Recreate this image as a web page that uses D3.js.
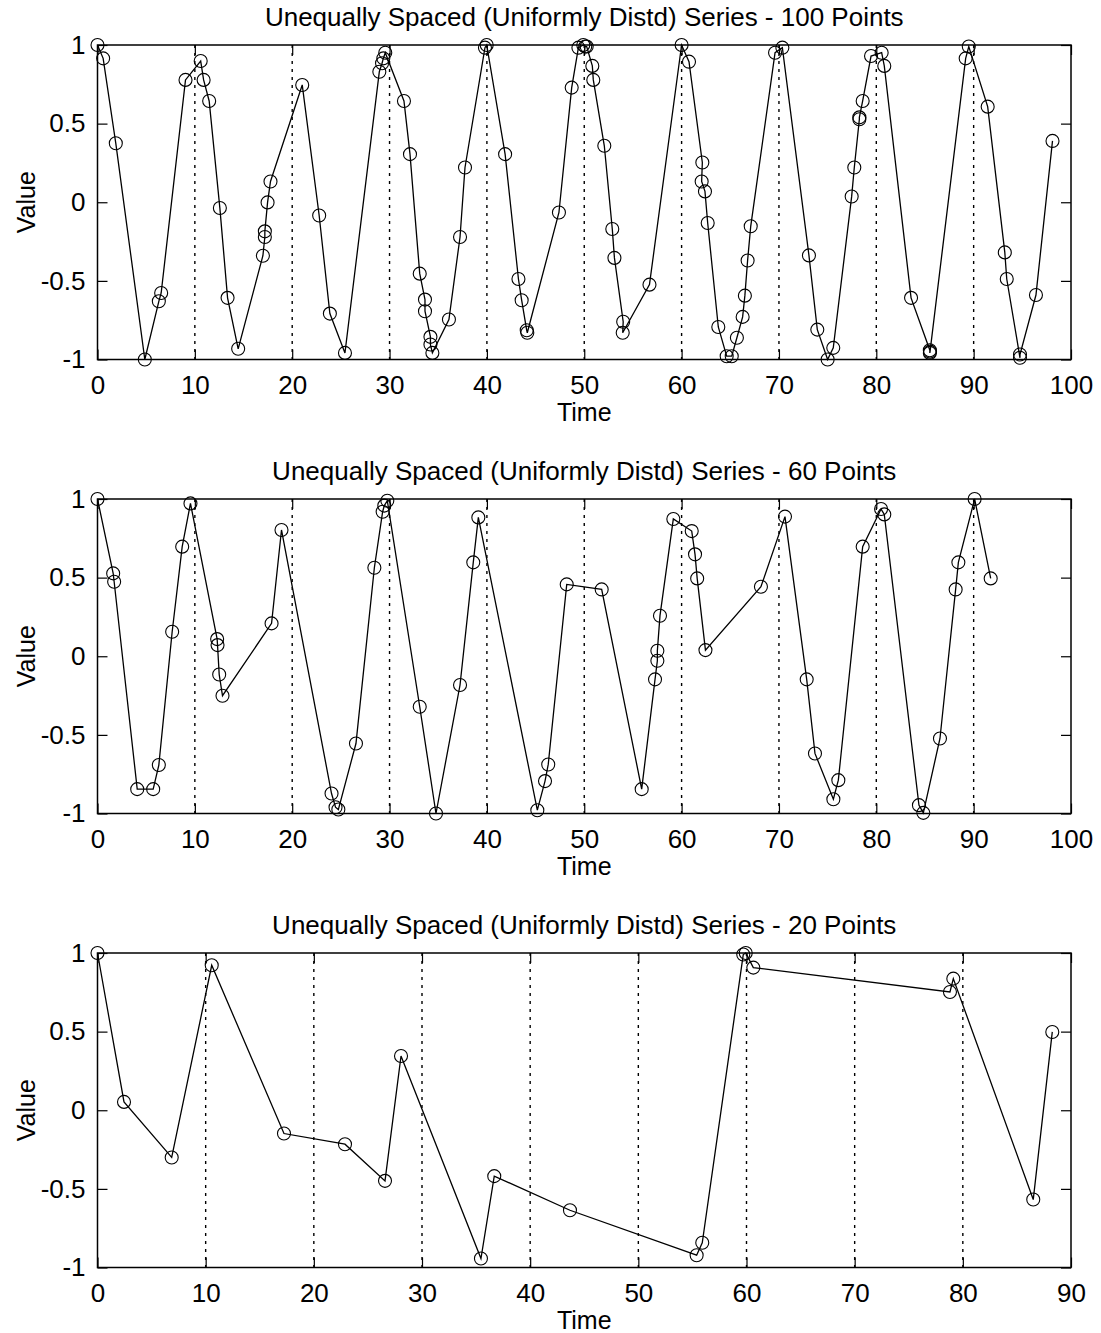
<!DOCTYPE html>
<html>
<head>
<meta charset="utf-8">
<script src="https://cdn.jsdelivr.net/npm/d3@7"></script>
<style>
  body { margin: 0; background: #fff; }
  svg text { font-family: "Liberation Sans", Arial, Helvetica, sans-serif; fill: #000; }
</style>
</head>
<body>
<div id="chart"></div>
<script>
// Series 1 - 100 points
const time100 = [0, 0.58, 1.88, 4.86, 6.3, 6.54, 9.04, 10.6, 10.9, 11.47, 12.57, 13.36, 14.45, 16.99, 17.19, 17.19, 17.47, 17.77,
  21.03, 22.77, 23.87, 25.42, 28.95, 29.23, 29.36, 29.56, 31.48, 32.1, 33.1, 33.64, 33.64, 34.2, 34.2, 34.4, 36.1, 37.24,
  37.75, 39.8, 39.98, 41.87, 43.24, 43.57, 44.09, 44.15, 47.4, 48.71, 49.4, 49.9, 50.1, 50.25, 50.83, 50.93, 52.06, 52.88,
  53.1, 54.0, 53.95, 56.7, 60.0, 60.76, 62.13, 62.06, 62.4, 62.68, 63.77, 64.63, 65.15, 65.68, 66.27, 66.5, 66.78, 67.1,
  69.6, 70.35, 73.08, 73.94, 75.0, 75.58, 77.47, 77.74, 78.26, 78.26, 78.6, 79.46, 80.55, 80.82, 83.57, 85.5, 85.5, 85.52,
  89.18, 89.5, 91.44, 93.2, 93.4, 94.76, 94.76, 96.4, 98.1];
const value100 = [1.0, 0.915, 0.375, -1.0, -0.63, -0.577, 0.778, 0.898, 0.778, 0.644, -0.037, -0.608, -0.932, -0.34, -0.221, -0.185, -0.001, 0.132,
  0.746, -0.084, -0.708, -0.958, 0.83, 0.884, 0.915, 0.951, 0.644, 0.306, -0.454, -0.619, -0.693, -0.856, -0.905, -0.958, -0.746, -0.221,
  0.221, 0.983, 1.0, 0.306, -0.488, -0.623, -0.814, -0.83, -0.065, 0.729, 0.983, 1.0, 0.99, 0.99, 0.867, 0.778, 0.359, -0.17,
  -0.354, -0.76, -0.83, -0.524, 1.0, 0.894, 0.253, 0.132, 0.069, -0.132, -0.793, -0.979, -0.979, -0.862, -0.729, -0.594, -0.37, -0.153,
  0.951, 0.983, -0.338, -0.81, -1.0, -0.926, 0.037, 0.221, 0.528, 0.54, 0.644, 0.93, 0.951, 0.867, -0.608, -0.941, -0.958, -0.95,
  0.915, 0.99, 0.608, -0.319, -0.488, -0.989, -0.968, -0.59, 0.39];

// Series 2 - 60 points
const time60 = [0, 1.61, 1.71, 4.08, 5.72, 6.3, 7.67, 8.7, 9.55, 12.29, 12.33, 12.5, 12.84, 17.88, 18.9, 24.04, 24.45, 24.74,
  26.55, 28.44, 29.29, 29.46, 29.77, 33.1, 34.77, 37.24, 38.6, 39.12, 45.18, 45.97, 46.3, 48.2, 51.79, 55.9, 57.27, 57.51,
  57.51, 57.78, 59.15, 61.04, 61.38, 61.6, 62.45, 68.15, 70.62, 72.85, 73.7, 75.59, 76.1, 78.6, 80.49, 80.82, 84.38, 84.83,
  86.54, 88.15, 88.43, 90.1, 91.75];
const value60 = [1.0, 0.527, 0.474, -0.845, -0.845, -0.692, 0.156, 0.697, 0.972, 0.109, 0.071, -0.116, -0.251, 0.209, 0.803, -0.873, -0.96, -0.975,
  -0.555, 0.563, 0.919, 0.958, 0.989, -0.321, -1.0, -0.183, 0.597, 0.883, -0.979, -0.794, -0.688, 0.457, 0.425, -0.845, -0.147, -0.029,
  0.035, 0.258, 0.873, 0.796, 0.648, 0.495, 0.039, 0.442, 0.888, -0.147, -0.618, -0.909, -0.788, 0.697, 0.936, 0.902, -0.947, -0.996,
  -0.523, 0.425, 0.597, 1.0, 0.495];

// Series 3 - 20 points
const time20 = [0, 2.45, 6.86, 10.56, 17.24, 22.88, 26.58, 28.06, 35.45, 36.68, 43.68, 55.39, 55.91, 59.7, 59.93, 60.63, 78.81, 79.12, 86.51, 88.27];
const value20 = [1.0, 0.053, -0.3, 0.922, -0.148, -0.216, -0.449, 0.345, -0.943, -0.419, -0.636, -0.922, -0.843, 0.99, 1.0, 0.907, 0.752, 0.837, -0.568, 0.498];

const xTicks100 = [0, 10, 20, 30, 40, 50, 60, 70, 80, 90, 100];
const xTicks90 = [0, 10, 20, 30, 40, 50, 60, 70, 80, 90];
const yTicks = [-1, -0.5, 0, 0.5, 1];

const panels = [
    { title: "Unequally Spaced (Uniformly Distd) Series - 100 Points", t: time100, v: value100, xMax: 100, xTicks: xTicks100, top: 45 },
    { title: "Unequally Spaced (Uniformly Distd) Series - 60 Points", t: time60, v: value60, xMax: 100, xTicks: xTicks100, top: 499 },
    { title: "Unequally Spaced (Uniformly Distd) Series - 20 Points", t: time20, v: value20, xMax: 90, xTicks: xTicks90, top: 953 }
];

const width = 1101;
const height = 1333;
const left = 97.5;
const right = 1071;
const plotHeight = 314.5;
const fontSize = 25;

const svg = d3.select("#chart").append("svg")
    .attr("width", width)
    .attr("height", height)
    .attr("viewBox", [0, 0, width, height]);

panels.forEach(p => {
    const x = d3.scaleLinear().domain([0, p.xMax]).range([left, right]);
    const y = d3.scaleLinear().domain([-1, 1]).range([p.top + plotHeight, p.top]);
    const g = svg.append("g");

    // dotted grid lines at the x ticks
    g.append("g")
        .selectAll("line")
        .data(p.xTicks.filter(d => d > 0 && d < p.xMax))
        .join("line")
        .attr("x1", d => x(d)).attr("x2", d => x(d))
        .attr("y1", p.top).attr("y2", p.top + plotHeight)
        .attr("stroke", "#000")
        .attr("stroke-width", 1.4)
        .attr("stroke-dasharray", "3,5");

    // inward ticks on all four sides
    g.append("g")
        .attr("transform", `translate(0,${p.top + plotHeight})`)
        .call(d3.axisBottom(x).tickValues(p.xTicks).tickSizeInner(-10).tickSizeOuter(0).tickPadding(16))
        .call(a => a.select(".domain").remove())
        .call(a => a.selectAll("text").attr("font-size", fontSize + 1).attr("font-family", null));
    g.append("g")
        .attr("transform", `translate(0,${p.top})`)
        .call(d3.axisTop(x).tickValues(p.xTicks).tickSizeInner(-10).tickSizeOuter(0).tickFormat(""))
        .call(a => a.select(".domain").remove());
    g.append("g")
        .attr("transform", `translate(${left},0)`)
        .call(d3.axisLeft(y).tickValues(yTicks).tickSizeInner(-10).tickSizeOuter(0).tickPadding(12).tickFormat(d => String(d)))
        .call(a => a.select(".domain").remove())
        .call(a => a.selectAll("text").attr("font-size", fontSize + 1).attr("font-family", null));
    g.append("g")
        .attr("transform", `translate(${right},0)`)
        .call(d3.axisRight(y).tickValues(yTicks).tickSizeInner(-10).tickSizeOuter(0).tickFormat(""))
        .call(a => a.select(".domain").remove());
    g.selectAll(".tick line").attr("stroke-width", 1.2);

    // box
    g.append("rect")
        .attr("x", left).attr("y", p.top)
        .attr("width", right - left).attr("height", plotHeight)
        .attr("fill", "none")
        .attr("stroke", "#000")
        .attr("stroke-width", 1.5);

    const pts = p.t.map((d, i) => [d, p.v[i]]);

    g.append("path")
        .datum(pts)
        .attr("fill", "none")
        .attr("stroke", "#000")
        .attr("stroke-width", 1.3)
        .attr("d", d3.line().x(d => x(d[0])).y(d => y(d[1])));

    g.append("g")
        .selectAll("circle")
        .data(pts)
        .join("circle")
        .attr("cx", d => x(d[0]))
        .attr("cy", d => y(d[1]))
        .attr("r", 6.5)
        .attr("fill", "none")
        .attr("stroke", "#000")
        .attr("stroke-width", 1.1);

    // labels
    g.append("text")
        .attr("x", (left + right) / 2)
        .attr("y", p.top - 19)
        .attr("text-anchor", "middle")
        .attr("font-size", fontSize + 1)
        .text(p.title);
    g.append("text")
        .attr("x", (left + right) / 2)
        .attr("y", p.top + plotHeight + 61)
        .attr("text-anchor", "middle")
        .attr("font-size", fontSize)
        .text("Time");
    g.append("text")
        .attr("transform", `translate(35,${p.top + plotHeight / 2}) rotate(-90)`)
        .attr("text-anchor", "middle")
        .attr("font-size", fontSize)
        .text("Value");
});
</script>
</body>
</html>
